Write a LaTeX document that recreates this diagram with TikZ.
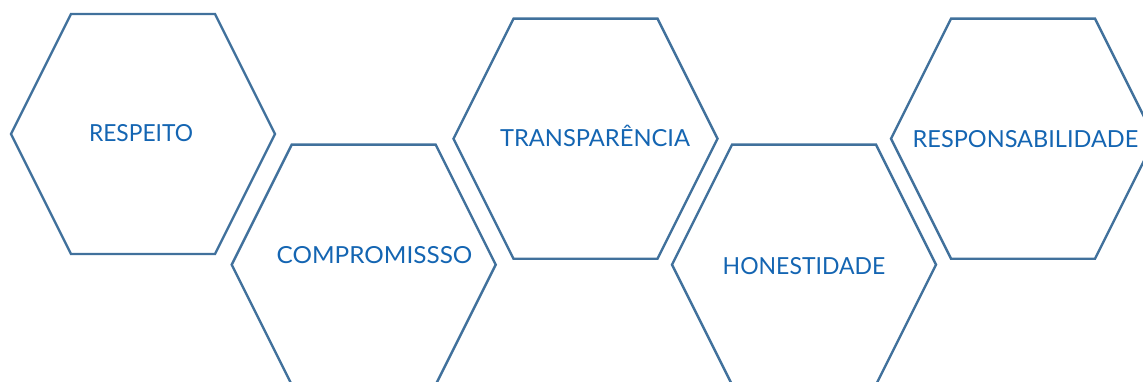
\documentclass[tikz,border=0pt]{standalone}
\usepackage{fontspec}
\setmainfont{Lato}
\usepackage{graphicx}
\definecolor{hexline}{RGB}{65,113,156}
\definecolor{hextext}{RGB}{20,101,178}
\newcommand\hexshape[3]{%
  \coordinate (#1) at (#2,#3);
  \draw[hexedge,shift={(#1)}] (-132,0) -- (-72,-120) -- (72,-120) -- (132,0) -- (72,120) -- (-72,120) -- cycle;}
\begin{document}
\begin{tikzpicture}[x=1pt,y=-1pt,
  hexedge/.style={draw=hexline,line width=2.4pt,line join=miter},
  label/.style={anchor=base,inner sep=0pt,text=hextext,font=\fontsize{23.5}{26}\selectfont}]
\useasboundingbox (0,0) rectangle (1143,382);
\clip (0,0) rectangle (1143,382);
\hexshape{h1}{143}{134}
\hexshape{h2}{363.7}{264.7}
\hexshape{h3}{585.5}{138.7}
\hexshape{h4}{804}{264.7}
\hexshape{h5}{1023}{138.7}
\node[label] (t1) at (141,142) {\resizebox{104pt}{\height}{RESPEITO}};
\node[label] (t2) at (374.5,264) {\resizebox{195.6pt}{\height}{COMPROMISSSO}};
\node[label] (t3) at (595,146.7) {\resizebox{190pt}{\height}{TRANSPARÊNCIA}};
\node[label] (t4) at (804,274.3) {\resizebox{162.6pt}{\height}{HONESTIDADE}};
\node[label] (t5) at (1025.5,147.7) {\resizebox{225.6pt}{\height}{RESPONSABILIDADE}};
\end{tikzpicture}
\end{document}
